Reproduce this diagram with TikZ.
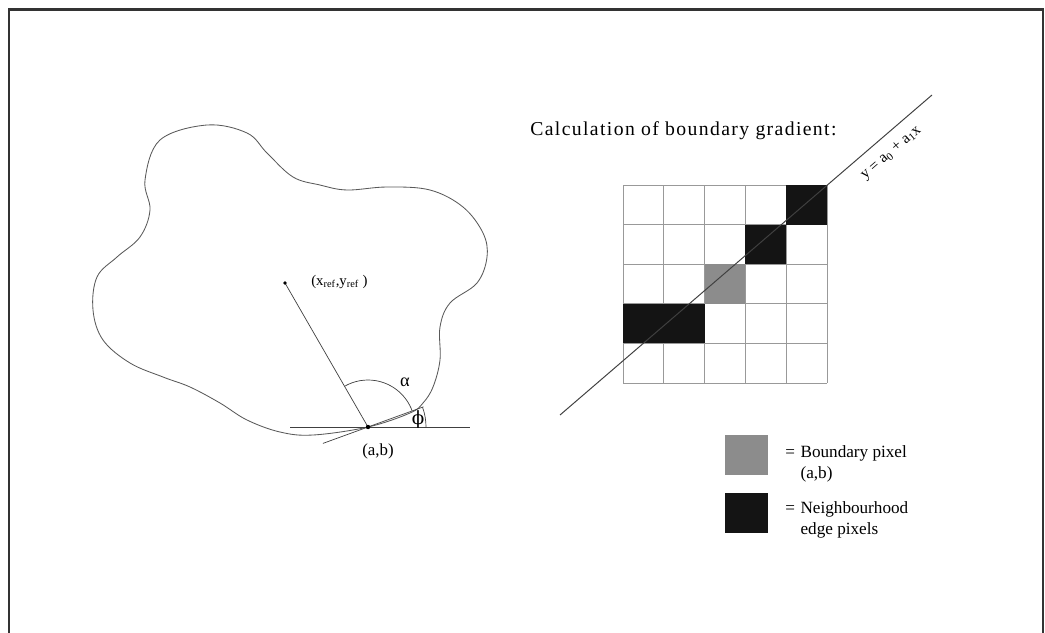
\documentclass[tikz,border=0pt]{standalone}
\usepackage{fontspec}
\setmainfont{Liberation Serif}
\newfontfamily\spacedfont[LetterSpace=7]{Liberation Serif}
\newfontfamily\greekfont{DejaVu Serif}
\usepackage{tikz}
\usetikzlibrary{calc}
\tikzset{
  outline/.style={draw=black!65, line width=0.6pt},
  thinline/.style={draw=black!75, line width=0.5pt},
  gridline/.style={draw=black!40, line width=0.5pt},
  edgepix/.style={fill=black!92},
  bndpix/.style={fill=black!45},
  keybox/.style={minimum width=1.075cm, minimum height=1cm, inner sep=0pt},
  keytxt/.style={font=\fontsize{12.2}{15.5}\selectfont, inner sep=0pt},
  smalltxt/.style={font=\fontsize{#1}{#1}\selectfont, inner sep=0pt},
  smalltxt/.default=12,
}
\newcommand{\pixcell}[3]{%
  \fill[#3] ({623+#2*40.8},{185+#1*39.6}) rectangle ++(40.8,39.6);}

\begin{document}
\begin{tikzpicture}[x=0.025cm, y=-0.025cm]
  \useasboundingbox (0,0) rectangle (1045,632);
  \draw[line width=1.5pt, black!80] (9,660) -- (9,9.5) -- (1043,9.5) -- (1043,660);

  \draw[outline] plot[smooth cycle, tension=0.6] coordinates {
    (145,180) (160,140) (207,125) (247,133) (267,153) (293,177) (320,185)
    (347,190) (387,187) (430,190) (463,207) (483,233) (487,257) (477,283)
    (450,303) (440,327) (440,360) (433,387) (423,403) (410,413) (368,427)
    (313,435) (280,432) (247,420) (220,403) (190,387) (163,377) (130,363)
    (103,340) (93,310) (97,277) (117,257) (140,237) (150,210)};

  \coordinate (ab) at (368,427);
  \coordinate (ref) at (285,283);
  \coordinate (hleft) at (290,427);
  \coordinate (hright) at (470,427);
  \coordinate (tlo) at ($(ab)+(160:48)$);
  \coordinate (thi) at ($(ab)+(-20:59)$);
  \draw[thinline] (ref) -- (ab);
  \draw[thinline] (hleft) -- (hright);
  \draw[thinline] (tlo) -- (thi);
  \draw[thinline] (ab) ++(0:58) arc[start angle=0, end angle=-20, radius=58];
  \draw[thinline] (ab) ++(-20:47) arc[start angle=-20, end angle=-120, radius=47];
  \fill (ref) circle[radius=1.8];
  \fill (ab) circle[radius=2.2];

  \node[smalltxt=10.5, anchor=base west] (reflbl) at (311,285)
    {(x\textsubscript{ref},y\textsubscript{ref} )};
  \node[smalltxt=13] (alpha) at (405,382) {α};
  \node[smalltxt=13] (phi) at (418,419) {\greekfont ϕ};
  \node[smalltxt, anchor=base] (ablbl) at (378,455) {(a,b)};

  \node[inner sep=0pt, anchor=base west, font=\fontsize{14}{16}\spacedfont]
    (title) at (530,135) {Calculation of boundary gradient:};

  \foreach \i in {0,...,5} {
    \draw[gridline] ({623+\i*40.8},185) -- ({623+\i*40.8},383);
    \draw[gridline] (623,{185+\i*39.6}) -- (827,{185+\i*39.6});
  }
  \foreach \r/\c in {0/4, 1/3, 3/0, 3/1} {\pixcell{\r}{\c}{edgepix}}
  \pixcell{2}{2}{bndpix}

  \coordinate (fitlo) at (560,415);
  \coordinate (fithi) at (932,95);
  \draw[thinline, line width=0.7pt] (fitlo) -- (fithi)
    node[pos=0.86, sloped, below=8pt, smalltxt=11] (fitlbl)
    {y = a\textsubscript{0} + a\textsubscript{1}x};

  \node[keybox, bndpix, anchor=north west] (keybnd) at (725,435) {};
  \node[keytxt, anchor=base west] (txtbnd) at (785,457)
    {\begin{tabular}[t]{@{}l@{\hspace{4pt}}l@{}}= & Boundary pixel\\ & (a,b)\end{tabular}};
  \node[keybox, edgepix, anchor=north west] (keyedge) at (725,493) {};
  \node[keytxt, anchor=base west] (txtedge) at (785,513)
    {\begin{tabular}[t]{@{}l@{\hspace{4pt}}l@{}}= & Neighbourhood\\ & edge pixels\end{tabular}};
\end{tikzpicture}
\end{document}
